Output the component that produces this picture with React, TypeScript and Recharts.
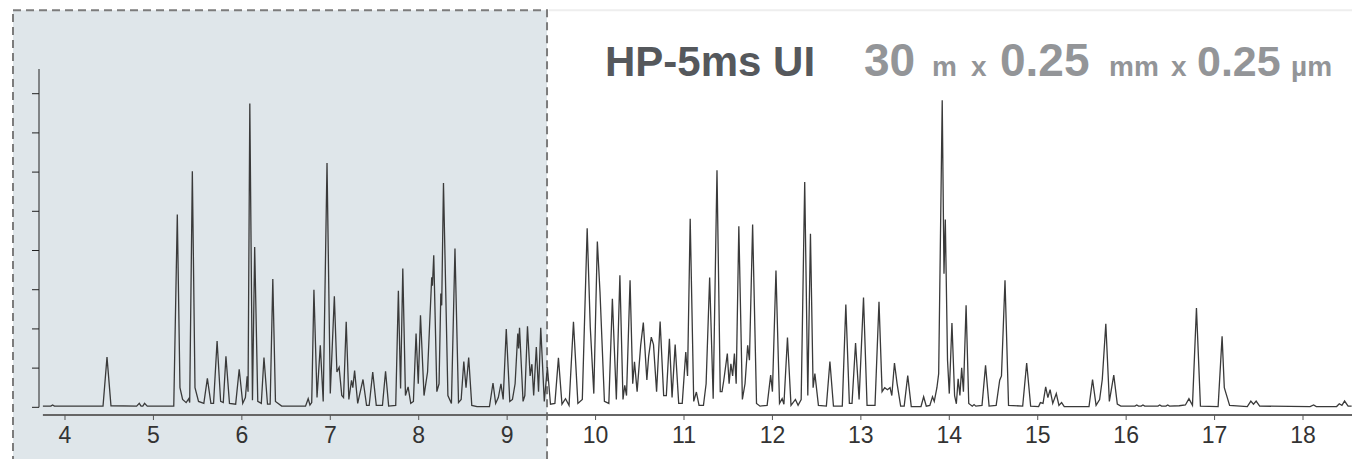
import { LineChart, Line, XAxis, YAxis, ReferenceArea, ReferenceLine } from 'recharts';

// chromatogram vertices [retention time (min), signal]
const earlyTrace: [number, number][] = [
  [3.75, 0.03], [3.84, 0.03], [3.86, 0.06], [3.88, 0.03], [4.43, 0.03], [4.475, 1.28], [4.52, 0.04],
  [4.81, 0.03], [4.84, 0.1], [4.86, 0.03], [4.88, 0.03], [4.9, 0.1], [4.93, 0.03], [5.23, 0.03],
  [5.27, 4.92], [5.3, 0.5], [5.33, 0.2], [5.37, 0.12], [5.4, 0.22], [5.41, 0.12], [5.44, 6.02],
  [5.47, 0.5], [5.51, 0.15], [5.57, 0.1], [5.61, 0.74], [5.65, 0.1], [5.68, 0.1], [5.72, 1.69],
  [5.76, 0.15], [5.79, 0.12], [5.82, 1.3], [5.86, 0.1], [5.93, 0.08], [5.97, 0.97], [6.01, 0.1],
  [6.04, 0.25], [6.06, 0.79], [6.07, 0.4], [6.09, 7.75], [6.12, 0.18], [6.145, 4.09], [6.18, 0.15],
  [6.22, 0.1], [6.25, 1.27], [6.29, 0.08], [6.32, 0.08], [6.35, 3.27], [6.38, 0.15], [6.45, 0.03],
];

const midTrace: [number, number][] = [
  [6.72, 0.03], [6.75, 0.22], [6.77, 0.06], [6.79, 0.12], [6.815, 3.0], [6.85, 0.25], [6.887, 1.58],
  [6.92, 0.15], [6.963, 6.23], [7.0, 0.35], [7.046, 2.83], [7.075, 0.9], [7.1, 1.02], [7.13, 0.3],
  [7.15, 0.25], [7.18, 2.18], [7.21, 0.2], [7.24, 0.69], [7.255, 0.5], [7.275, 0.94], [7.31, 0.1],
  [7.37, 0.71], [7.41, 0.05], [7.44, 0.05], [7.48, 0.9], [7.52, 0.05], [7.59, 0.05], [7.625, 0.92],
  [7.66, 0.03], [7.74, 0.05], [7.77, 2.97], [7.795, 0.48], [7.82, 3.54], [7.85, 0.3], [7.88, 0.52],
  [7.91, 0.1], [7.94, 0.15], [7.97, 1.88], [7.995, 0.6], [8.02, 2.35], [8.06, 0.3], [8.1, 0.9],
  [8.147, 3.32], [8.155, 3.1], [8.17, 3.88], [8.205, 0.4], [8.23, 0.6], [8.25, 2.9], [8.26, 2.6],
  [8.28, 5.72], [8.33, 0.3], [8.37, 0.1], [8.41, 4.05], [8.45, 0.12], [8.48, 0.2], [8.51, 1.17],
  [8.535, 0.5], [8.565, 1.27], [8.6, 0.05], [8.66, 0.02], [8.8, 0.02], [8.84, 0.62], [8.87, 0.1],
  [8.9, 0.25], [8.93, 0.6], [8.955, 0.2], [8.99, 2.0], [9.03, 0.15], [9.06, 0.2], [9.09, 0.6],
  [9.12, 1.88], [9.13, 1.5], [9.14, 2.03], [9.18, 0.15], [9.2, 0.3], [9.23, 2.07], [9.26, 0.8],
  [9.28, 1.1], [9.3, 0.3], [9.33, 1.54], [9.355, 0.4], [9.38, 2.03], [9.42, 0.15], [9.455, 1.03],
  [9.49, 0.08],
];

const lateTrace: [number, number][] = [
  [9.54, 0.1], [9.58, 1.26], [9.62, 0.08], [9.66, 0.22], [9.7, 0.05], [9.75, 2.18], [9.8, 0.1],
  [9.85, 0.2], [9.905, 4.57], [9.94, 2.05], [9.98, 0.35], [10.02, 4.23], [10.05, 2.94], [10.1, 0.15],
  [10.15, 0.1], [10.19, 2.77], [10.235, 0.2], [10.275, 3.37], [10.31, 0.2], [10.33, 0.56], [10.35, 0.3],
  [10.39, 3.24], [10.42, 0.6], [10.44, 1.16], [10.47, 0.4], [10.51, 1.58], [10.54, 2.16], [10.58, 0.7],
  [10.6, 1.3], [10.63, 1.79], [10.655, 1.6], [10.69, 0.4], [10.73, 2.19], [10.77, 0.3], [10.8, 0.3],
  [10.835, 1.75], [10.865, 0.25], [10.9, 1.6], [10.94, 0.1], [10.98, 0.1], [11.02, 1.41], [11.04, 0.8],
  [11.07, 4.81], [11.11, 0.15], [11.14, 0.39], [11.17, 0.05], [11.22, 0.05], [11.25, 0.6], [11.29, 3.31],
  [11.33, 0.22], [11.373, 6.05], [11.41, 0.4], [11.43, 0.4], [11.45, 0.69], [11.49, 1.37], [11.51, 0.6],
  [11.53, 1.11], [11.55, 0.8], [11.57, 1.37], [11.59, 0.6], [11.62, 4.62], [11.66, 0.2], [11.69, 0.6],
  [11.72, 1.58], [11.74, 1.2], [11.776, 4.66], [11.82, 0.1], [11.86, 0.03], [11.94, 0.05], [11.98, 0.82],
  [12.0, 0.4], [12.04, 3.49], [12.08, 0.1], [12.11, 0.22], [12.13, 0.08], [12.17, 1.78], [12.21, 0.05],
  [12.26, 0.2], [12.29, 0.05], [12.325, 0.2], [12.365, 5.75], [12.4, 0.3], [12.43, 4.43], [12.46, 0.5],
  [12.48, 0.86], [12.52, 0.05],
];

const tailTrace: [number, number][] = [
  [12.61, 0.03], [12.65, 1.17], [12.69, 0.03], [12.79, 0.03], [12.83, 2.62], [12.87, 0.1], [12.9, 0.1],
  [12.94, 1.64], [12.98, 0.2], [13.03, 2.8], [13.07, 0.05], [13.16, 0.05], [13.205, 2.69], [13.24, 0.4],
  [13.27, 0.5], [13.3, 0.45], [13.33, 0.5], [13.35, 0.3], [13.38, 1.13], [13.41, 0.6], [13.45, 0.03],
  [13.49, 0.03], [13.53, 0.81], [13.57, 0.02], [13.68, 0.02], [13.71, 0.27], [13.74, 0.03], [13.78, 0.05],
  [13.81, 0.27], [13.83, 0.15], [13.86, 0.5], [13.88, 0.86], [13.92, 7.83], [13.94, 3.41], [13.955, 4.79],
  [13.98, 1.2], [14.0, 0.35], [14.03, 2.15], [14.06, 0.3], [14.08, 0.09], [14.1, 0.73], [14.12, 0.3],
  [14.14, 1.01], [14.16, 0.4], [14.19, 2.6], [14.22, 0.1], [14.26, 0.03], [14.28, 0.07], [14.3, 0.03],
  [14.37, 0.05], [14.41, 1.07], [14.45, 0.03], [14.53, 0.05], [14.57, 0.69], [14.59, 0.8], [14.63, 3.24],
  [14.67, 0.05], [14.83, 0.03], [14.875, 1.13], [14.92, 0.03], [15.01, 0.02], [15.03, 0.12], [15.06, 0.1],
  [15.09, 0.52], [15.115, 0.25], [15.14, 0.45], [15.17, 0.1], [15.21, 0.35], [15.24, 0.05], [15.27, 0.12],
  [15.3, 0.02], [15.58, 0.02], [15.62, 0.71], [15.66, 0.05], [15.7, 0.2], [15.73, 0.71], [15.77, 2.13],
  [15.81, 0.15], [15.86, 0.82], [15.9, 0.08], [15.94, 0.03], [16.1, 0.03], [16.12, 0.06], [16.14, 0.03],
  [16.17, 0.03], [16.19, 0.06], [16.21, 0.03], [16.36, 0.03], [16.38, 0.06], [16.4, 0.03], [16.45, 0.03],
  [16.47, 0.06], [16.49, 0.03], [16.6, 0.04], [16.67, 0.06], [16.71, 0.22], [16.75, 0.05], [16.795, 2.53],
  [16.84, 0.03], [17.04, 0.02], [17.085, 1.81], [17.11, 0.5], [17.13, 0.35], [17.17, 0.05], [17.37, 0.02],
  [17.41, 0.16], [17.44, 0.08], [17.47, 0.16], [17.51, 0.03], [18.08, 0.02], [18.12, 0.06], [18.15, 0.02],
  [18.38, 0.02], [18.41, 0.09], [18.44, 0.05], [18.47, 0.16], [18.51, 0.03], [18.55, 0.03],
];

const timeTicks = [4, 5, 6, 7, 8, 9, 10, 11, 12, 13, 14, 15, 16, 17, 18];
const signalTicks = [0, 1, 2, 3, 4, 5, 6, 7, 8];

// highlighted window of the run (minutes)
const windowStart = 3.412;
const windowEnd = 9.451;

const X_MIN = 3.706;
const X_MAX = 18.554;
const Y_MIN = -0.196;
const Y_MAX = 8.63;
const FRAME_TOP = 10.13;

const font = '"Liberation Sans", Arial, sans-serif';

export default function App() {
  const data = [...earlyTrace, ...midTrace, ...lateTrace, ...tailTrace].map(([t, y]) => ({ t, y }));

  return (
    <div style={{ position: 'absolute', left: 0, top: 0, width: 1352, height: 459, background: '#fff', fontFamily: font }}>
      <LineChart width={1352} height={459} data={data} margin={{ top: 69, right: 0, bottom: 0, left: 0 }}>
        <ReferenceArea
          x1={windowStart}
          x2={windowEnd}
          y1={-1.6}
          y2={FRAME_TOP}
          ifOverflow="visible"
          fill="#dfe6ea"
          fillOpacity={1}
          stroke="#7c7c7c"
          strokeWidth={2}
          strokeDasharray="8 5"
        />
        <ReferenceLine
          segment={[{ x: windowEnd + 0.02, y: FRAME_TOP }, { x: X_MAX, y: FRAME_TOP }]}
          ifOverflow="visible"
          stroke="#eeeeee"
          strokeWidth={2}
        />
        <XAxis
          type="number"
          dataKey="t"
          domain={[X_MIN, X_MAX]}
          allowDataOverflow
          ticks={timeTicks}
          axisLine={false}
          tickSize={5}
          tickMargin={7}
          height={44}
          tickLine={{ stroke: '#555' }}
          tick={{ fill: '#333', fontSize: 23, fontFamily: font }}
        />
        <YAxis
          type="number"
          domain={[Y_MIN, Y_MAX]}
          allowDataOverflow
          ticks={signalTicks}
          width={39}
          axisLine={false}
          tickSize={7}
          tickLine={{ stroke: '#222' }}
          tick={() => <g />}
        />
        <ReferenceLine
          segment={[{ x: 3.75, y: Y_MIN }, { x: X_MAX, y: Y_MIN }]}
          ifOverflow="visible"
          stroke="#666"
          strokeWidth={2}
        />
        <ReferenceLine
          segment={[{ x: X_MIN, y: 0 }, { x: X_MIN, y: Y_MAX }]}
          ifOverflow="visible"
          stroke="#222"
          strokeWidth={1}
        />
        <Line
          type="linear"
          dataKey="y"
          stroke="#3a3a3a"
          strokeWidth={1.3}
          dot={false}
          isAnimationActive={false}
        />
      </LineChart>
      <svg width={1352} height={90} style={{ position: 'absolute', left: 0, top: 0, pointerEvents: 'none' }}>
        <g fontFamily={font} fontWeight="bold">
          <text x={605} y={76} fontSize={42} fill="#55585c">HP-5ms UI</text>
          <text x={864} y={76} fill="#939598">
            <tspan fontSize={46}>30</tspan>
            <tspan x={932} fontSize={28}>m</tspan>
            <tspan x={971} fontSize={28}>x</tspan>
            <tspan x={1000} fontSize={46}>0.25</tspan>
            <tspan x={1109} fontSize={28}>mm</tspan>
            <tspan x={1171} fontSize={28}>x</tspan>
            <tspan x={1197} fontSize={43}>0.25</tspan>
            <tspan x={1291} fontSize={28}>µm</tspan>
          </text>
        </g>
      </svg>
    </div>
  );
}
